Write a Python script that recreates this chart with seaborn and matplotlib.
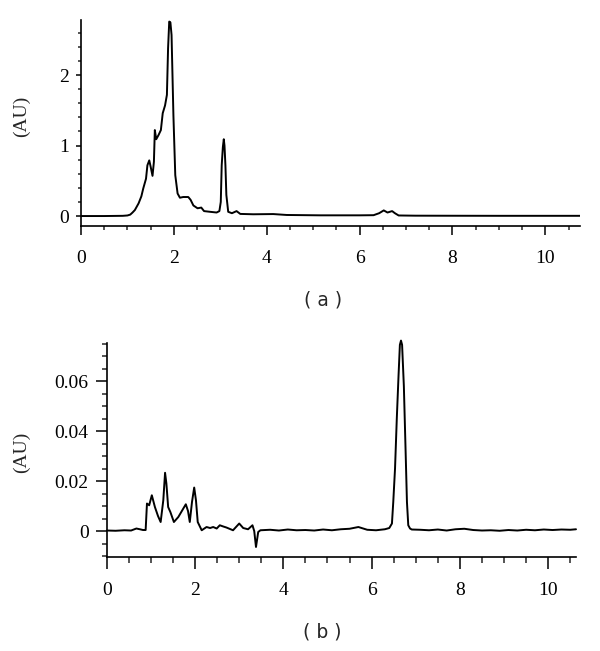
import numpy as np
import pandas as pd
import seaborn as sns
import matplotlib
matplotlib.use("Agg")
import matplotlib.pyplot as plt
from matplotlib.ticker import MultipleLocator

# (a) chromatogram
time_a = [0.0, 0.5, 0.9, 1.0, 1.06, 1.11, 1.16, 1.24, 1.30, 1.34, 1.40, 1.43, 1.47,
          1.50, 1.54, 1.57, 1.59, 1.62, 1.67, 1.72, 1.76, 1.81, 1.85, 1.875, 1.90,
          1.925, 1.95, 1.99, 2.03, 2.08, 2.13, 2.20, 2.31, 2.36, 2.42, 2.51, 2.59,
          2.65, 2.78, 2.92, 2.98, 3.01, 3.03, 3.055, 3.075, 3.09, 3.11, 3.13, 3.17,
          3.25, 3.35, 3.43, 3.71, 4.14, 4.43, 5.15, 6.0, 6.30, 6.42, 6.52, 6.60,
          6.70, 6.76, 6.84, 7.2, 8.0, 9.0, 10.0, 10.75]
au_a = [0.0, 0.0, 0.003, 0.008, 0.02, 0.05, 0.085, 0.18, 0.28, 0.39, 0.53, 0.72, 0.79,
        0.70, 0.57, 0.77, 1.22, 1.09, 1.15, 1.22, 1.46, 1.57, 1.72, 2.38, 2.76,
        2.75, 2.57, 1.43, 0.58, 0.32, 0.26, 0.27, 0.27, 0.23, 0.15, 0.11, 0.12,
        0.07, 0.06, 0.05, 0.07, 0.20, 0.72, 0.98, 1.09, 1.00, 0.72, 0.30, 0.06,
        0.04, 0.07, 0.03, 0.025, 0.028, 0.015, 0.01, 0.01, 0.012, 0.04, 0.08, 0.05,
        0.07, 0.04, 0.008, 0.005, 0.004, 0.003, 0.003, 0.003]

# (b) chromatogram
time_b = [0.0, 0.2, 0.4, 0.55, 0.67, 0.75, 0.82, 0.88, 0.91, 0.96, 1.02, 1.09, 1.16,
          1.22, 1.28, 1.32, 1.35, 1.39, 1.44, 1.52, 1.62, 1.72, 1.79, 1.84, 1.88,
          1.93, 1.98, 2.02, 2.06, 2.15, 2.26, 2.34, 2.41, 2.49, 2.56, 2.64, 2.71,
          2.86, 3.00, 3.09, 3.20, 3.30, 3.34, 3.38, 3.43, 3.48, 3.7, 3.9, 4.1, 4.3,
          4.5, 4.7, 4.9, 5.1, 5.3, 5.5, 5.7, 5.9, 6.1, 6.3, 6.40, 6.46, 6.49, 6.53,
          6.57, 6.61, 6.64, 6.665, 6.69, 6.73, 6.77, 6.80, 6.83, 6.87, 6.91, 7.1,
          7.3, 7.5, 7.7, 7.9, 8.1, 8.3, 8.5, 8.7, 8.9, 9.1, 9.3, 9.5, 9.7, 9.9,
          10.1, 10.3, 10.5, 10.63]
au_b = [0.0002, 0.0001, 0.0003, 0.0002, 0.0010, 0.0007, 0.0004, 0.0004, 0.0110, 0.0103,
        0.0143, 0.0096, 0.0060, 0.0036, 0.0123, 0.0233, 0.0190, 0.0096, 0.0076,
        0.0036, 0.0056, 0.0086, 0.0107, 0.0080, 0.0036, 0.0116, 0.0174, 0.0123,
        0.0036, 0.0003, 0.0016, 0.0012, 0.0016, 0.0010, 0.0023, 0.0018, 0.0014,
        0.0003, 0.0030, 0.0012, 0.0007, 0.0023, 0.0000, -0.0064, -0.0004, 0.0003,
        0.0005, 0.0002, 0.0006, 0.0003, 0.0004, 0.0002, 0.0006, 0.0003, 0.0007,
        0.0009, 0.0016, 0.0005, 0.0003, 0.0007, 0.0012, 0.0030, 0.0116, 0.0250,
        0.0450, 0.0624, 0.0745, 0.0762, 0.0745, 0.0580, 0.0317, 0.0116, 0.0023,
        0.0010, 0.0006, 0.0005, 0.0003, 0.0006, 0.0002, 0.0007, 0.0009, 0.0004,
        0.0002, 0.0003, 0.0001, 0.0004, 0.0002, 0.0005, 0.0003, 0.0006, 0.0004,
        0.0006, 0.0005, 0.0007]

df_a = pd.DataFrame({"time": time_a, "au": au_a})
df_b = pd.DataFrame({"time": time_b, "au": au_b})

sns.set_theme(style="ticks")
plt.rcParams["font.family"] = ["Liberation Serif", "DejaVu Serif"]

fig = plt.figure(figsize=(6.0, 6.51), dpi=100)
ax_a = fig.add_axes([0.135, 0.653, 0.832, 0.316])
ax_b = fig.add_axes([0.178, 0.144, 0.782, 0.329])

sns.lineplot(data=df_a, x="time", y="au", ax=ax_a, color="black", linewidth=1.4,
             estimator=None, sort=False)
sns.lineplot(data=df_b, x="time", y="au", ax=ax_b, color="black", linewidth=1.4,
             estimator=None, sort=False)
ax_b.lines[0].set_clip_on(False)

# panel (a) axes
ax_a.set_xlim(0, 10.75)
ax_a.set_ylim(-0.14, 2.78)
ax_a.xaxis.set_major_locator(MultipleLocator(2))
ax_a.xaxis.set_minor_locator(MultipleLocator(0.5))
ax_a.yaxis.set_major_locator(MultipleLocator(1))
ax_a.yaxis.set_minor_locator(MultipleLocator(0.2))
ax_a.tick_params(axis="x", which="major", length=6.5, width=1.1, pad=11, labelsize=14)
ax_a.tick_params(axis="x", which="minor", length=3, width=1.1)
ax_a.tick_params(axis="y", which="major", length=3.6, width=1.1, pad=5, labelsize=14)
ax_a.tick_params(axis="y", which="minor", length=2, width=1.1)
ax_a.set_xlabel("")
ax_a.set_ylabel("(AU)", fontsize=14)
ax_a.yaxis.set_label_coords(-0.102, 0.53)

# panel (b) axes
ax_b.set_xlim(0, 10.63)
ax_b.set_ylim(-0.0105, 0.0752)
ax_b.xaxis.set_major_locator(MultipleLocator(2))
ax_b.xaxis.set_minor_locator(MultipleLocator(0.5))
ax_b.yaxis.set_minor_locator(MultipleLocator(0.005))
ax_b.set_yticks([0, 0.02, 0.04, 0.06])
ax_b.set_yticklabels(["0", "0.02", "0.04", "0.06"])
ax_b.tick_params(axis="x", which="major", length=8.6, width=1.1, pad=9, labelsize=14)
ax_b.tick_params(axis="x", which="minor", length=4.3, width=1.1)
ax_b.tick_params(axis="y", which="major", length=8, width=1.1, pad=5, labelsize=14)
ax_b.tick_params(axis="y", which="minor", length=3.6, width=1.1)
ax_b.set_xlabel("")
ax_b.set_ylabel("(AU)", fontsize=14)
ax_b.yaxis.set_label_coords(-0.164, 0.49)

for ax in (ax_a, ax_b):
    sns.despine(ax=ax)
    for side in ("left", "bottom"):
        ax.spines[side].set_color("black")
        ax.spines[side].set_linewidth(1.2)
    ax.tick_params(colors="black")

fig.text(0.538, 1 - 300 / 651, "( a )", ha="center", va="center", fontsize=13.5,
         family=["DejaVu Sans"])
fig.text(0.537, 1 - 632 / 651, "( b )", ha="center", va="center", fontsize=13.5,
         family=["DejaVu Sans"])

fig.savefig("out.png", dpi=100, facecolor="white")
